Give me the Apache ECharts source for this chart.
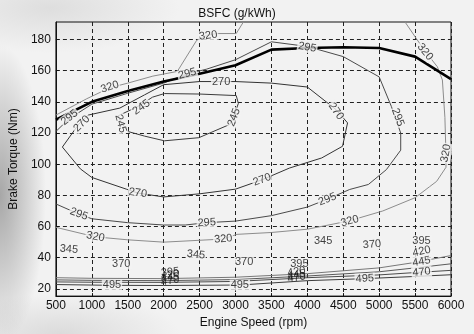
<!DOCTYPE html>
<html>
<head>
<meta charset="utf-8">
<script src="https://cdn.jsdelivr.net/npm/echarts@6/dist/echarts.min.js"></script>
<style>
  html, body { margin: 0; padding: 0; width: 474px; height: 334px; overflow: hidden; }
  body {
    background:
      radial-gradient(46px 150px at 0px 195px, rgba(105,105,105,0.55), rgba(105,105,105,0)),
      radial-gradient(130px 45px at 50px 8px, rgba(150,150,150,0.22), rgba(150,150,150,0)),
      radial-gradient(120px 40px at 60px 334px, rgba(150,150,150,0.25), rgba(150,150,150,0)),
      #f2f2f2;
  }
  #chart { width: 474px; height: 334px; }
</style>
</head>
<body>
<div id="chart"></div>
<script>
// Engine map: brake specific fuel consumption contours over speed / torque.
// Every curve is a list of [rpm, torque Nm] points.

const xTicks = [500, 1000, 1500, 2000, 2500, 3000, 3500, 4000, 4500, 5000, 5500, 6000];
const yTicks = [20, 40, 60, 80, 100, 120, 140, 160, 180];

// full-load (max torque) curve
const fullLoad = [[500,128.5],[1000,140],[1500,147],[2000,153],[2500,158],[3000,163.5],
  [3500,173.5],[4000,174.5],[4500,175],[5000,174.5],[5500,169],[6000,154.5]];

// 245 g/kWh island
const bsfc245 = [[2010,145.3],[2500,145],[3010,144],[3040,139],[2970,130],[2920,125.5],
  [2490,117],[2010,115],[1735,118],[1500,121],[1405,127],[1365,131],[1640,137],[1845,143],[2010,145.3]];

// 270 g/kWh loop
const bsfc270 = [[590,111],[840,97],[1000,91.5],[1480,84],[1640,81.5],[2000,79],[2500,81],
  [3000,84],[3370,90],[3750,97.5],[4200,104],[4490,111.5],[4560,126.5],[4400,135],[4000,149.5],
  [3500,152],[3000,153],[2500,153],[2000,151],[1735,144.5],[1390,136],[950,131.5],[815,125.5],[590,111]];

// 295 g/kWh
const bsfc295 = [[500,121],[680,129],[1000,138.5],[1500,145.5],[2000,152],[2300,157.5],[2600,161],
  [3000,167],[3500,178.5],[4000,175.5],[4500,169],[5000,156],[5170,137],[5300,120],[5300,109],
  [5100,96.5],[4850,87],[4590,83.8],[4270,77.4],[4000,72.5],[3500,67],[3000,63.5],[2600,62.5],
  [2300,61],[2000,61],[1500,62.5],[1000,65],[820,68],[500,74.5]];

// 320 g/kWh: upper-left branch and the right / lower branch
const bsfc320a = [[500,131.5],[930,142],[1250,149],[1500,152],[1850,156.5],[2190,159.5],
  [2460,179.5],[2600,182.7],[2740,183.8],[3010,183.8],[3110,191.2]];
const bsfc320b = [[5360,191.2],[5630,173],[5810,162.5],[5880,154],[5915,130],[5930,106],[5930,98],
  [5800,89],[5700,85.5],[5500,78.5],[5050,70],[4580,63.6],[4000,58.3],[3500,56.2],[3020,55],
  [2830,52],[2000,50],[1500,51.5],[1050,53.4],[500,59.5]];

// low-load contours
const bsfc420 = [[500,27.2],[1000,26.8],[2000,26.6],[3000,27.5],[4000,29.8],[5000,33.5],[5500,37],[6000,41.4]];
const bsfc445 = [[500,25.8],[1000,25.5],[2000,25.3],[3000,26],[4000,28.3],[5000,31],[5500,33.5],[6000,36.1]];
const bsfc470 = [[500,24.5],[1000,24.3],[2000,24.2],[3000,24.8],[4000,27.2],[5000,29],[5500,30.5],[6000,31.9]];
const bsfc495 = [[500,22.8],[1280,22.3],[2000,22.2],[3060,22.5],[4000,25.3],[4800,26.6],[5500,28],[6000,29.1]];

// contour level labels: [rpm, torque, level]
const levelLabels = [
  [1250,149.5,320],[690,130,295],[860,126,270],[1690,136.5,245],[1400,126,245],[2980,130,245],
  [2330,158,295],[2800,153,270],[2620,182.5,320],[4000,175,295],[4400,134,270],[5260,130,295],
  [5640,172,320],[5930,107,320],[3370,90,270],[1640,81.5,270],[820,68,295],[2600,62.5,295],
  [4280,77.5,295],[1050,53.5,320],[2830,52,320],[4590,63.5,320],[680,45.5,345],[2450,42,345],
  [4220,50.5,345],[1410,36,370],[3120,37,370],[4900,48.5,370],[5590,51,395],[5590,44,420],
  [5590,37.5,445],[5590,30.8,470],[1280,22.3,495],[3060,22.5,495],[4800,26.6,495]
];
const levelLabelAngles = [18,38,45,35,-75,70,15,0,8,-10,-55,-70,-50,80,20,-8,-20,3,22,-10,5,15,
  -5,-5,0,0,0,5,0,12,10,5,0,0,3];

// crowded labels where the low-load lines bunch together
const crowdedLabels = [
  [2090,30.8,395],[2090,29,420],[2090,27.2,445],[2090,25.2,470],
  [3890,36,395],[3850,31,420],[3850,29,445],[3850,27.2,470]
];
const crowdedAngles = [5,10,10,10,0,10,10,10];

const FONT = '"Liberation Sans", Arial, Helvetica, sans-serif';
const PAPER = '#f2f2f2';

function contour(data, color, width) {
  return {
    type: 'line', data: data, symbol: 'none', smooth: false, silent: true,
    lineStyle: { color: color, width: width }, z: 3
  };
}

const chart = echarts.init(document.getElementById('chart'), null, { renderer: 'canvas' });

chart.setOption({
  animation: false,
  backgroundColor: 'transparent',
  title: {
    text: 'BSFC (g/kWh)', left: 'center', top: 3,
    textStyle: { fontFamily: FONT, fontSize: 12, fontWeight: 'normal', color: '#111' }
  },
  grid: {
    left: 50, right: 23, top: 22, bottom: 36.5,
    show: true, borderColor: '#111', borderWidth: 1, backgroundColor: 'transparent'
  },
  xAxis: {
    type: 'value', min: 500, max: 6000, interval: 500,
    name: 'Engine Speed (rpm)', nameLocation: 'middle', nameGap: 16,
    nameTextStyle: { fontFamily: FONT, fontSize: 12, color: '#111' },
    axisLine: { show: true, onZero: false, lineStyle: { color: '#111', width: 1 } },
    axisTick: { show: true, inside: true, length: 3, lineStyle: { color: '#111' } },
    axisLabel: { fontFamily: FONT, fontSize: 12, color: '#111', margin: 4,
      customValues: xTicks, formatter: v => String(v) },
    splitLine: { show: true, lineStyle: { color: '#222', width: 1, type: [4, 3] } }
  },
  yAxis: {
    type: 'value', min: 15.4, max: 191.2,
    name: 'Brake Torque (Nm)', nameLocation: 'middle', nameGap: 33,
    nameTextStyle: { fontFamily: FONT, fontSize: 12, color: '#111' },
    axisLine: { show: true, onZero: false, lineStyle: { color: '#111', width: 1 } },
    axisTick: { show: true, inside: true, length: 3, customValues: yTicks, lineStyle: { color: '#111' } },
    axisLabel: { fontFamily: FONT, fontSize: 12, color: '#111', margin: 5,
      customValues: yTicks, formatter: v => String(v) },
    splitLine: { show: true, lineStyle: { color: '#222', width: 1, type: [4, 3] } }
  },
  series: [
    contour(bsfc320a, '#8c8c8c', 1),
    contour(bsfc320b, '#8c8c8c', 1),
    contour(bsfc295, '#4a4a4a', 1),
    contour(bsfc270, '#333333', 1),
    contour(bsfc245, '#3a3a3a', 1),
    contour(bsfc420, '#777777', 1),
    contour(bsfc445, '#5a5a5a', 1),
    contour(bsfc470, '#4a4a4a', 1),
    contour(bsfc495, '#3c3c3c', 1),
    {
      type: 'line', data: fullLoad, symbol: 'none', silent: true,
      lineStyle: { color: '#000', width: 2.6 }, z: 4
    },
    {
      type: 'scatter', silent: true, z: 6, symbol: 'circle', symbolSize: 0.1,
      itemStyle: { color: 'rgba(0,0,0,0)' },
      data: levelLabels.map((p, i) => ({ value: p, label: { rotate: levelLabelAngles[i] } })),
      label: {
        show: true, position: 'inside', formatter: p => String(p.value[2]),
        fontFamily: FONT, fontSize: 11, color: '#111',
        backgroundColor: PAPER, padding: [0, 1]
      }
    },
    {
      type: 'scatter', silent: true, z: 6, symbol: 'circle', symbolSize: 0.1,
      itemStyle: { color: 'rgba(0,0,0,0)' },
      data: crowdedLabels.map((p, i) => ({ value: p, label: { rotate: crowdedAngles[i] } })),
      label: {
        show: true, position: 'inside', formatter: p => String(p.value[2]),
        fontFamily: FONT, fontSize: 11, color: '#111'
      }
    }
  ]
});
</script>
</body>
</html>
